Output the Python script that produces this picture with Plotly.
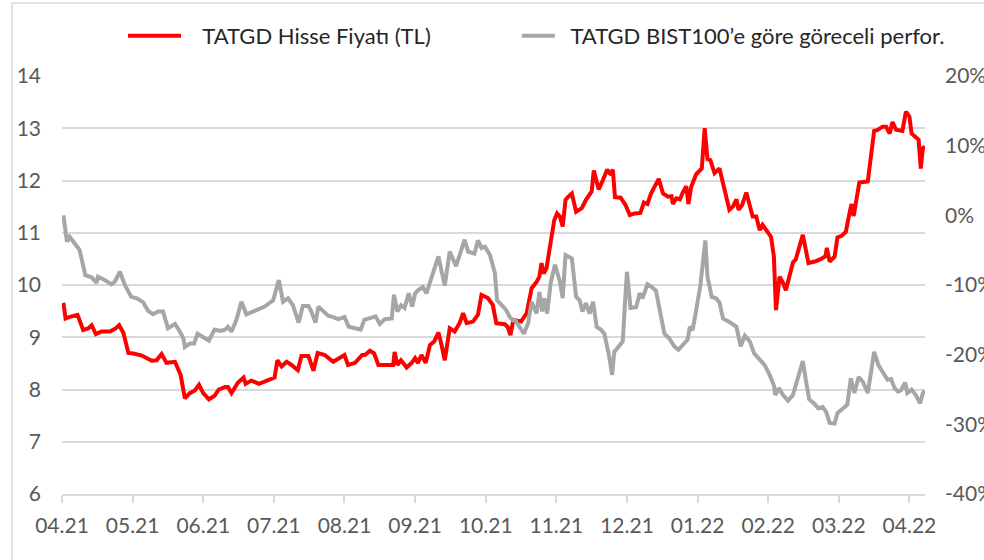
import plotly.graph_objects as go

# x positions are in months since April 2021 (0 = 04.21)
tick_vals = list(range(13))
tick_labels = ["04.21", "05.21", "06.21", "07.21", "08.21", "09.21", "10.21",
               "11.21", "12.21", "01.22", "02.22", "03.22", "04.22"]

price_x = [0.02, 0.05, 0.11, 0.22, 0.30, 0.37, 0.42, 0.48, 0.56, 0.68, 0.75, 0.81, 0.87, 0.94,
           1.01, 1.13, 1.27, 1.34, 1.41, 1.48, 1.60, 1.68, 1.74, 1.81, 1.88, 1.94, 2.00, 2.08,
           2.16, 2.22, 2.31, 2.35, 2.40, 2.49, 2.57, 2.60, 2.68, 2.79, 2.92, 3.01, 3.05, 3.11,
           3.18, 3.25, 3.34, 3.39, 3.49, 3.56, 3.62, 3.72, 3.84, 3.93, 4.00, 4.05, 4.15, 4.25,
           4.29, 4.36, 4.42, 4.48, 4.57, 4.69, 4.71, 4.75, 4.80, 4.88, 4.95, 5.00, 5.04, 5.09,
           5.15, 5.21, 5.27, 5.33, 5.37, 5.42, 5.49, 5.56, 5.63, 5.68, 5.73, 5.82, 5.89, 5.94,
           6.03, 6.10, 6.15, 6.27, 6.31, 6.35, 6.39, 6.50, 6.58, 6.65, 6.72, 6.76, 6.79, 6.82,
           6.86, 6.91, 6.97, 7.01, 7.05, 7.09, 7.13, 7.17, 7.22, 7.28, 7.36, 7.42, 7.50, 7.53,
           7.60, 7.66, 7.72, 7.77, 7.80, 7.83, 7.91, 7.98, 8.04, 8.11, 8.19, 8.24, 8.29, 8.34,
           8.45, 8.51, 8.58, 8.63, 8.65, 8.70, 8.75, 8.79, 8.84, 8.87, 8.91, 8.98, 9.06, 9.10,
           9.14, 9.18, 9.24, 9.31, 9.38, 9.45, 9.50, 9.55, 9.58, 9.63, 9.69, 9.74, 9.78, 9.83,
           9.88, 9.92, 9.99, 10.04, 10.08, 10.11, 10.16, 10.21, 10.25, 10.30, 10.35, 10.39,
           10.49, 10.57, 10.66, 10.75, 10.81, 10.83, 10.87, 10.94, 10.98, 11.04, 11.10, 11.15,
           11.18, 11.21, 11.25, 11.29, 11.41, 11.46, 11.50, 11.55, 11.62, 11.67, 11.72, 11.76,
           11.81, 11.90, 11.95, 12.00, 12.03, 12.13, 12.16, 12.19, 12.22]
price_tl = [9.66, 9.36, 9.39, 9.43, 9.14, 9.17, 9.23, 9.06, 9.11, 9.11, 9.16, 9.23, 9.08, 8.70,
            8.69, 8.65, 8.55, 8.56, 8.68, 8.51, 8.53, 8.28, 7.83, 7.93, 7.98, 8.09, 7.93, 7.81,
            7.88, 8.00, 8.05, 8.05, 7.93, 8.13, 8.23, 8.11, 8.17, 8.11, 8.18, 8.23, 8.56, 8.44,
            8.53, 8.47, 8.37, 8.64, 8.64, 8.36, 8.70, 8.66, 8.53, 8.60, 8.66, 8.47, 8.51, 8.66,
            8.66, 8.74, 8.69, 8.47, 8.47, 8.47, 8.72, 8.47, 8.56, 8.42, 8.51, 8.60, 8.51, 8.66,
            8.51, 8.85, 8.92, 9.09, 8.88, 8.56, 9.17, 9.11, 9.27, 9.46, 9.27, 9.30, 9.43, 9.81,
            9.75, 9.62, 9.27, 9.25, 9.20, 9.04, 9.33, 9.30, 9.46, 9.94, 10.06, 10.16, 10.42, 10.22,
            10.32, 10.73, 11.24, 11.37, 11.31, 11.12, 11.63, 11.69, 11.75, 11.40, 11.47, 11.63, 11.79, 12.19,
            11.83, 12.01, 12.21, 12.11, 12.21, 11.68, 11.67, 11.53, 11.34, 11.37, 11.38, 11.58, 11.55, 11.75,
            12.03, 11.75, 11.69, 11.70, 11.55, 11.66, 11.64, 11.77, 11.89, 11.55, 11.88, 12.12, 12.23, 13.00,
            12.41, 12.39, 12.14, 12.23, 11.82, 11.44, 11.50, 11.64, 11.44, 11.53, 11.77, 11.53, 11.31, 11.31,
            11.05, 11.15, 11.02, 10.92, 10.55, 9.52, 10.16, 10.04, 9.90, 10.16, 10.43, 10.49,
            10.96, 10.42, 10.45, 10.50, 10.55, 10.71, 10.45, 10.54, 10.91, 10.94, 11.02, 11.37,
            11.55, 11.32, 11.63, 11.96, 11.98, 12.58, 12.95, 12.97, 13.03, 13.03, 12.90, 13.12,
            12.97, 12.95, 13.32, 13.22, 12.90, 12.78, 12.23, 12.62, 12.65]

rel_x = [0.02, 0.07, 0.11, 0.18, 0.25, 0.33, 0.42, 0.49, 0.51, 0.61, 0.70, 0.75, 0.82, 0.89,
         0.98, 1.06, 1.15, 1.22, 1.29, 1.36, 1.43, 1.50, 1.60, 1.67, 1.72, 1.74, 1.81, 1.87,
         1.92, 2.00, 2.08, 2.16, 2.24, 2.31, 2.35, 2.40, 2.47, 2.54, 2.61, 2.73, 2.87, 2.99,
         3.07, 3.13, 3.20, 3.27, 3.35, 3.41, 3.49, 3.53, 3.59, 3.63, 3.70, 3.77, 3.84, 3.91,
         4.00, 4.06, 4.15, 4.23, 4.28, 4.38, 4.44, 4.50, 4.57, 4.67, 4.70, 4.75, 4.80, 4.85,
         4.91, 4.96, 5.00, 5.05, 5.11, 5.16, 5.23, 5.29, 5.33, 5.37, 5.42, 5.49, 5.58, 5.65,
         5.70, 5.75, 5.84, 5.89, 5.94, 5.99, 6.06, 6.13, 6.16, 6.20, 6.29, 6.34, 6.39, 6.42,
         6.48, 6.54, 6.60, 6.65, 6.72, 6.76, 6.80, 6.83, 6.87, 6.92, 6.98, 7.05, 7.09, 7.13,
         7.22, 7.28, 7.33, 7.37, 7.42, 7.47, 7.52, 7.57, 7.63, 7.68, 7.74, 7.79, 7.82, 7.88,
         7.94, 7.98, 8.00, 8.05, 8.13, 8.18, 8.22, 8.29, 8.34, 8.41, 8.48, 8.53, 8.60, 8.67,
         8.73, 8.79, 8.86, 8.89, 8.93, 8.98, 9.04, 9.11, 9.14, 9.20, 9.26, 9.31, 9.36, 9.45,
         9.55, 9.61, 9.67, 9.74, 9.80, 9.88, 9.95, 10.02, 10.08, 10.10, 10.15, 10.21, 10.28,
         10.35, 10.42, 10.49, 10.54, 10.58, 10.66, 10.71, 10.77, 10.82, 10.87, 10.94, 10.98,
         11.06, 11.12, 11.17, 11.22, 11.28, 11.34, 11.41, 11.50, 11.56, 11.62, 11.69, 11.74,
         11.79, 11.84, 11.88, 11.94, 11.97, 12.03, 12.09, 12.15, 12.19, 12.22]
rel_perf = [0.0, -3.8, -3.1, -4.0, -5.0, -8.6, -8.9, -9.7, -8.8, -9.3, -9.9, -9.5, -8.1, -10.0,
            -11.7, -11.9, -12.5, -13.7, -14.2, -13.8, -13.8, -16.2, -15.6, -16.7, -17.7, -18.9, -18.4, -18.4,
            -17.0, -17.5, -18.0, -16.4, -16.6, -16.4, -16.0, -16.7, -15.0, -12.4, -14.2, -13.7, -13.1, -12.2,
            -9.3, -12.4, -11.9, -12.9, -15.4, -13.0, -13.0, -13.8, -15.4, -13.1, -13.8, -14.4, -14.6, -14.9,
            -14.6, -16.0, -16.2, -16.4, -15.0, -14.6, -14.5, -15.6, -14.9, -14.8, -11.4, -13.8, -12.9, -13.3,
            -11.2, -13.1, -11.2, -10.7, -10.3, -11.2, -9.0, -7.3, -5.9, -7.8, -10.1, -5.2, -7.3, -5.1,
            -3.5, -5.2, -5.5, -3.6, -4.7, -4.5, -5.7, -8.3, -12.2, -12.6, -13.6, -14.6, -15.1, -15.1,
            -16.0, -17.0, -15.5, -12.4, -14.1, -11.0, -13.8, -11.9, -14.1, -9.7, -7.1, -9.5, -11.9, -5.7,
            -6.2, -11.7, -12.2, -13.8, -12.6, -14.1, -12.4, -16.0, -16.4, -17.0, -19.8, -22.9, -19.6, -18.9,
            -18.1, -11.2, -8.1, -13.3, -13.2, -11.2, -11.9, -9.9, -10.2, -10.8, -14.1, -17.0, -17.7, -18.8,
            -19.3, -18.6, -17.8, -16.0, -16.5, -13.6, -10.0, -3.6, -8.8, -11.7, -11.9, -12.5, -14.8, -15.3,
            -16.0, -18.8, -17.3, -18.1, -19.8, -20.7, -21.5, -22.9, -24.4, -25.8, -24.8, -25.8, -26.6,
            -25.8, -23.2, -20.9, -24.1, -26.4, -27.1, -27.7, -27.5, -28.2, -29.8, -29.9, -28.4,
            -27.7, -27.2, -23.4, -25.5, -23.2, -23.9, -25.5, -19.6, -21.5, -22.4, -23.6, -23.5,
            -24.8, -25.3, -25.1, -24.0, -25.5, -25.0, -25.8, -27.0, -25.5, -25.2]

left_ticks = [6, 7, 8, 9, 10, 11, 12, 13, 14]
right_ticks = [-40, -30, -20, -10, 0, 10, 20]
right_labels = ["-40%", "-30%", "-20%", "-10%", "0%", "10%", "20%"]

series_names = ["TATGD Hisse Fiyatı (TL)", "TATGD BIST100’e göre göreceli perfor."]

FONT = "Lato"
TXT = "#595959"
GRID = "#D9D9D9"
NB = "\u00a0"

fig = go.Figure()
fig.add_trace(go.Scatter(x=price_x, y=price_tl, mode="lines",
                         name=NB * 3 + series_names[0], legend="legend",
                         line=dict(color="#FF0000", width=4)))
fig.add_trace(go.Scatter(x=rel_x, y=rel_perf, mode="lines", yaxis="y2",
                         name=NB * 2 + series_names[1], legend="legend2",
                         line=dict(color="#A6A6A6", width=4)))

legend_font = dict(family=FONT, size=22, color="#262626")
fig.update_layout(
    width=984, height=560,
    margin=dict(l=62, r=59, t=76, b=66, autoexpand=False),
    paper_bgcolor="white", plot_bgcolor="white",
    font=dict(family=FONT, size=21, color=TXT),
    showlegend=True,
    legend=dict(orientation="h", x=0.0707, xanchor="left", y=1.0957, yanchor="middle",
                font=legend_font, itemwidth=53, bgcolor="rgba(0,0,0,0)"),
    legend2=dict(orientation="h", x=0.527, xanchor="left", y=1.0957, yanchor="middle",
                 font=legend_font, itemwidth=33, bgcolor="rgba(0,0,0,0)"),
    xaxis=dict(range=[0, 12.22], tickmode="array", tickvals=tick_vals, ticktext=tick_labels,
               showgrid=False, zeroline=False, showline=True, linecolor=GRID, linewidth=1.5,
               ticks="outside", ticklen=7, tickcolor=GRID, tickwidth=1.5, ticklabelstandoff=5,
               tickfont=dict(family=FONT, size=21, color=TXT)),
    yaxis=dict(range=[6, 14], tickmode="array", tickvals=left_ticks,
               showgrid=True, gridcolor=GRID, gridwidth=1.5, zeroline=False,
               showline=False, ticks="", ticklabelstandoff=20,
               tickfont=dict(family=FONT, size=21, color=TXT)),
    yaxis2=dict(range=[-40, 20], tickmode="array", tickvals=right_ticks, ticktext=right_labels,
                overlaying="y", side="right", showgrid=False, zeroline=False,
                showline=False, ticks="", ticklabelstandoff=19,
                tickfont=dict(family=FONT, size=21, color=TXT)),
)

# outer chart frame (left and top edges visible)
fig.add_shape(type="line", xref="paper", yref="paper",
              x0=-50 / 863, x1=-50 / 863, y0=-0.2, y1=491 / 418,
              line=dict(color=GRID, width=1.5))
fig.add_shape(type="line", xref="paper", yref="paper",
              x0=-50 / 863, x1=1.2, y0=491 / 418, y1=491 / 418,
              line=dict(color=GRID, width=1.5))

fig.write_html("out.html", config={"displayModeBar": False},
               post_script="document.body.style.margin='0';")
